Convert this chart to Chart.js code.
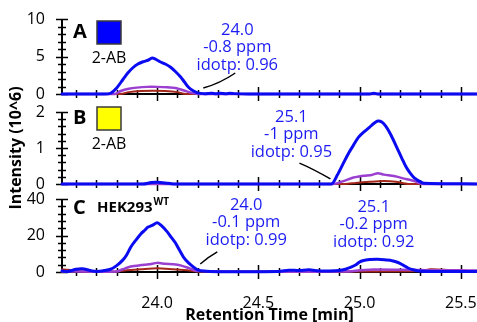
<!DOCTYPE html>
<html>
<head>
<meta charset="utf-8">
<script src="https://cdn.jsdelivr.net/npm/chart.js@4.4.0/dist/chart.umd.min.js"></script>
<style>
  body { margin: 0; background: #fff; }
  #wrap { position: relative; width: 477px; height: 322px; }
  #wrap canvas { position: absolute; left: 0; top: 0; width: 477px; height: 322px; }
</style>
</head>
<body>
<div id="wrap">
  <canvas id="chartA" width="477" height="322"></canvas>
  <canvas id="chartB" width="477" height="322"></canvas>
  <canvas id="chartC" width="477" height="322"></canvas>
</div>
<script>
// retention time ticks (min)
const xTicks = [24.0, 24.5, 25.0, 25.5];
const yTicksA = [0, 5, 10];
const yTicksB = [0, 1, 2];
const yTicksC = [0, 20, 40];

// panel A - 2-AB standard (intensity 10^6)
const timeBlueA = [23.53, 23.74, 23.77, 23.80, 23.83, 23.855, 23.88, 23.905, 23.93, 23.955, 23.975, 23.995, 24.015, 24.04, 24.065, 24.09, 24.115, 24.135, 24.155, 24.18, 24.20, 24.23, 24.27, 24.29, 24.31, 24.34, 24.36, 24.38, 24.45, 25.05, 25.07, 25.09, 25.58];
const blueA = [0, 0, 0.1, 0.8, 1.9, 2.8, 3.5, 4.0, 4.3, 4.5, 4.8, 4.6, 4.3, 4.0, 3.6, 3.0, 2.3, 1.6, 0.9, 0.4, 0.15, 0.05, 0.1, 0.05, 0.1, 0.05, 0.1, 0.05, 0, 0, 0.1, 0, 0];
const timePurpleA = [23.53, 23.79, 23.82, 23.86, 23.90, 23.95, 24.0, 24.05, 24.09, 24.13, 24.17, 24.20, 25.58];
const purpleA = [0, 0, 0.4, 0.7, 0.85, 0.95, 0.95, 0.9, 0.8, 0.5, 0.15, 0, 0];
const timeRedA = [23.53, 23.82, 23.86, 23.92, 23.98, 24.04, 24.10, 24.14, 25.58];
const redA = [0, 0, 0.25, 0.4, 0.45, 0.4, 0.25, 0, 0];

// panel B - 2-AB standard
const timeBlueB = [23.53, 23.93, 23.97, 24.0, 24.04, 24.08, 24.86, 24.89, 24.92, 24.945, 24.97, 24.995, 25.02, 25.05, 25.07, 25.09, 25.11, 25.13, 25.155, 25.19, 25.21, 25.23, 25.25, 25.27, 25.30, 25.32, 25.58];
const blueB = [0, 0, 0.04, 0.05, 0.03, 0, 0, 0.25, 0.58, 0.85, 1.08, 1.3, 1.44, 1.58, 1.68, 1.75, 1.72, 1.6, 1.36, 0.94, 0.7, 0.47, 0.3, 0.17, 0.06, 0.02, 0];
const timePurpleB = [23.53, 24.87, 24.92, 24.97, 25.02, 25.06, 25.09, 25.12, 25.17, 25.22, 25.27, 25.31, 25.58];
const purpleB = [0, 0, 0.08, 0.18, 0.23, 0.25, 0.3, 0.26, 0.22, 0.15, 0.08, 0, 0];
const timeRedB = [23.53, 24.93, 24.98, 25.05, 25.12, 25.18, 25.24, 25.58];
const redB = [0, 0, 0.03, 0.06, 0.08, 0.06, 0, 0];

// panel C - HEK293 WT
const timeBlueC = [23.53, 23.56, 23.60, 23.63, 23.67, 23.70, 23.74, 23.77, 23.80, 23.83, 23.85, 23.87, 23.895, 23.92, 23.94, 23.955, 23.975, 24.0, 24.02, 24.05, 24.07, 24.09, 24.11, 24.13, 24.155, 24.18, 24.20, 24.23, 24.30, 24.60, 24.65, 24.70, 24.75, 24.80, 24.85, 24.90, 24.93, 24.955, 24.98, 25.0, 25.015, 25.05, 25.09, 25.13, 25.16, 25.19, 25.215, 25.24, 25.265, 25.29, 25.35, 25.58];
const blueC = [0.5, 0.3, 1.5, 1.8, 0.8, 0.3, 0.8, 1.5, 3.5, 6.5, 9.5, 13.7, 17.5, 21, 23, 24.6, 25.5, 27, 25.5, 22, 19, 16, 12, 8.2, 5, 2.7, 1.2, 0.5, 0.2, 0.3, 1, 0.8, 1.2, 0.6, 0.5, 0.8, 1.5, 2.5, 3.8, 5.5, 6.2, 6.8, 7, 6.6, 6.2, 5.2, 3.8, 2.2, 1.2, 0.6, 0.3, 0.3];
const timePurpleC = [23.53, 23.80, 23.83, 23.87, 23.92, 23.96, 24.0, 24.04, 24.08, 24.12, 24.16, 24.20, 24.95, 25.0, 25.05, 25.2, 25.35, 25.5, 25.58];
const purpleC = [0.3, 0.3, 1.5, 3, 3.8, 4.2, 5, 4.5, 4.3, 3.5, 2, 0.5, 0.3, 1, 1.3, 1.2, 1.0, 1.0, 0.8];
const timeRedC = [23.53, 23.56, 23.62, 23.80, 23.85, 23.92, 24.0, 24.08, 24.15, 24.20, 25.0, 25.3, 25.35, 25.42, 25.48, 25.58];
const redC = [1.5, 1.2, 0.3, 0.3, 1, 1.5, 2, 1.5, 1, 0.3, 0.3, 0.5, 1.5, 1.2, 0.5, 0.3];

// peak annotations
const notesA = ["24.0", "-0.8 ppm", "idotp: 0.96"];
const notesB = ["25.1", "-1 ppm", "idotp: 0.95"];
const notesC1 = ["24.0", "-0.1 ppm", "idotp: 0.99"];
const notesC2 = ["25.1", "-0.2 ppm", "idotp: 0.92"];

const FONT = "'Open Sans', sans-serif";
const BLUE = "#0b0bf2";
const PURPLE = "#9b3fd1";
const RED = "#a3261a";
const NOTE_BLUE = "#1c1cf2";

const series = (times, vals) => times.map((t, i) => ({ x: t, y: vals[i] }));

// axis lines + crossing ticks, like the original figure
const axesPlugin = {
  id: "axes",
  beforeDatasetsDraw(chart, args, opts) {
    const { ctx, chartArea } = chart;
    const xs = chart.scales.x, ys = chart.scales.y;
    const y0 = ys.getPixelForValue(0);
    ctx.save();
    ctx.strokeStyle = "#000";
    ctx.lineWidth = 2;
    ctx.beginPath();
    ctx.moveTo(chartArea.left, y0);
    ctx.lineTo(chartArea.right, y0);
    ctx.moveTo(chartArea.left, chartArea.bottom);
    ctx.lineTo(chartArea.left, ys.getPixelForValue(ys.max));
    ctx.stroke();
    ctx.lineWidth = 1.5;
    ctx.beginPath();
    for (let v = 23.6; v < xs.max; v += 0.1) {
      const px = Math.round(xs.getPixelForValue(v)) + 0.5;
      const major = xTicks.some((t) => Math.abs(t - v) < 0.01);
      const len = major ? 7 : 4;
      ctx.moveTo(px, y0 - len);
      ctx.lineTo(px, y0 + len);
    }
    for (let v = 0; v <= ys.max + 1e-6; v += opts.minor) {
      const py = Math.round(ys.getPixelForValue(v)) + 0.5;
      const major = opts.ticks.some((t) => Math.abs(t - v) < 1e-6);
      const len = major ? 6 : 4;
      ctx.moveTo(chartArea.left - len, py);
      ctx.lineTo(chartArea.left + len, py);
    }
    ctx.stroke();
    ctx.restore();
  },
};

// peak labels, leader lines and panel tags
const notesPlugin = {
  id: "notes",
  afterDatasetsDraw(chart, args, opts) {
    const { ctx, chartArea } = chart;
    const xs = chart.scales.x, ys = chart.scales.y;
    ctx.save();
    ctx.textAlign = "center";
    ctx.textBaseline = "middle";
    (opts.notes || []).forEach((n) => {
      ctx.fillStyle = NOTE_BLUE;
      ctx.font = "16.5px " + FONT;
      const cx = xs.getPixelForValue(n.x);
      const cy = ys.getPixelForValue(n.y);
      n.lines.forEach((s, i) => ctx.fillText(s, cx, cy + i * 17.5));
      if (n.lead) {
        const p = n.lead.map((q) => [xs.getPixelForValue(q[0]), ys.getPixelForValue(q[1])]);
        ctx.strokeStyle = "#000";
        ctx.lineWidth = 1.5;
        ctx.beginPath();
        ctx.moveTo(p[0][0], p[0][1]);
        ctx.quadraticCurveTo(p[1][0], p[1][1], p[2][0], p[2][1]);
        ctx.stroke();
      }
    });
    const tag = opts.tag;
    if (tag) {
      const L = chartArea.left, T = chartArea.top;
      ctx.fillStyle = "#000";
      ctx.textAlign = "left";
      ctx.font = "bold 20px " + FONT;
      ctx.fillText(tag.letter, L + 11, T + tag.dy);
      if (tag.box) {
        ctx.fillStyle = tag.box;
        ctx.fillRect(L + 35, T + tag.boxY, 24, 23);
        ctx.strokeStyle = "#3a3a3a";
        ctx.lineWidth = 1.5;
        ctx.strokeRect(L + 35, T + tag.boxY, 24, 23);
        ctx.fillStyle = "#000";
        ctx.textAlign = "center";
        ctx.font = "16px " + FONT;
        ctx.fillText(tag.sub, L + 47, T + tag.boxY + 37);
      } else {
        ctx.font = "bold 15px " + FONT;
        ctx.fillText(tag.sub, L + 35, T + tag.dy);
        const w = ctx.measureText(tag.sub).width;
        ctx.font = "bold 10px " + FONT;
        ctx.fillText(tag.sup, L + 35 + w + 1, T + tag.dy - 6);
      }
    }
    ctx.restore();
  },
};

function makePanel(id, p) {
  const axisH = p.showX ? 322 - p.bottom : 0;
  return new Chart(document.getElementById(id), {
    type: "line",
    data: {
      datasets: [
        { data: series(p.blue[0], p.blue[1]), borderColor: BLUE, borderWidth: 3 },
        { data: series(p.purple[0], p.purple[1]), borderColor: PURPLE, borderWidth: 2.5 },
        { data: series(p.red[0], p.red[1]), borderColor: RED, borderWidth: 2 },
      ],
    },
    options: {
      responsive: false,
      maintainAspectRatio: false,
      animation: false,
      layout: { padding: { top: p.top, bottom: 322 - p.bottom - axisH, left: 0, right: 0 } },
      elements: {
        point: { radius: 0 },
        line: { tension: 0.25, borderJoinStyle: "round", borderCapStyle: "round" },
      },
      datasets: { line: { clip: 4 } },
      plugins: {
        legend: { display: false },
        tooltip: { enabled: false },
        axes: { ticks: p.yTicks, minor: p.minor },
        notes: { notes: p.notes, tag: p.tag },
      },
      scales: {
        x: {
          type: "linear",
          min: 23.53,
          max: 25.58,
          display: p.showX,
          grid: { display: false },
          border: { display: false },
          afterBuildTicks: (s) => { s.ticks = xTicks.map((v) => ({ value: v })); },
          afterFit: (s) => { s.height = axisH; s.paddingLeft = 0; s.paddingRight = 0; },
          ticks: {
            color: "#000",
            font: { family: FONT, size: 16 },
            padding: 14,
            maxRotation: 0,
            callback: (v) => Number(v).toFixed(1),
          },
          title: {
            display: true,
            text: "Retention Time [min]",
            color: "#000",
            font: { family: FONT, size: 16, weight: "bold", lineHeight: 1 },
            padding: { top: 0, bottom: -1 },
          },
        },
        y: {
          min: 0,
          max: p.yTicks[p.yTicks.length - 1],
          grid: { display: false },
          border: { display: false },
          afterBuildTicks: (s) => { s.ticks = p.yTicks.map((v) => ({ value: v })); },
          afterFit: (s) => { s.width = 62; },
          ticks: { color: "#000", font: { family: FONT, size: 16 }, padding: 9 },
          title: {
            display: !!p.yTitle,
            text: "Intensity (10^6)",
            color: "#000",
            font: { family: FONT, size: 16, weight: "bold" },
            padding: { top: 7, bottom: 0 },
          },
        },
      },
    },
    plugins: [axesPlugin, notesPlugin],
  });
}

makePanel("chartA", {
  top: 19, bottom: 94, showX: false, yTicks: yTicksA, minor: 1,
  blue: [timeBlueA, blueA], purple: [timePurpleA, purpleA], red: [timeRedA, redA],
  notes: [{ x: 24.396, y: 8.5, lines: notesA, lead: [[24.386, 2.8], [24.31, 1.4], [24.228, 0.8]] }],
  tag: { letter: "A", dy: 13, box: "#0000ff", boxY: 2, sub: "2-AB" },
});

makePanel("chartB", {
  top: 112, bottom: 184, showX: false, yTicks: yTicksB, minor: 0.2, yTitle: true,
  blue: [timeBlueB, blueB], purple: [timePurpleB, purpleB], red: [timeRedB, redB],
  notes: [{ x: 24.663, y: 1.86, lines: notesB, lead: [[24.703, 0.58], [24.77, 0.42], [24.856, 0.14]] }],
  tag: { letter: "B", dy: 6, box: "#ffff00", boxY: -5, sub: "2-AB" },
});

makePanel("chartC", {
  top: 199, bottom: 272, showX: true, yTicks: yTicksC, minor: 4,
  blue: [timeBlueC, blueC], purple: [timePurpleC, purpleC], red: [timeRedC, redC],
  notes: [
    { x: 24.44, y: 36.7, lines: notesC1, lead: [[24.297, 11], [24.25, 8], [24.213, 4.4]] },
    { x: 25.07, y: 35.6, lines: notesC2 },
  ],
  tag: { letter: "C", dy: 9, sub: "HEK293", sup: "WT" },
});
</script>
</body>
</html>
